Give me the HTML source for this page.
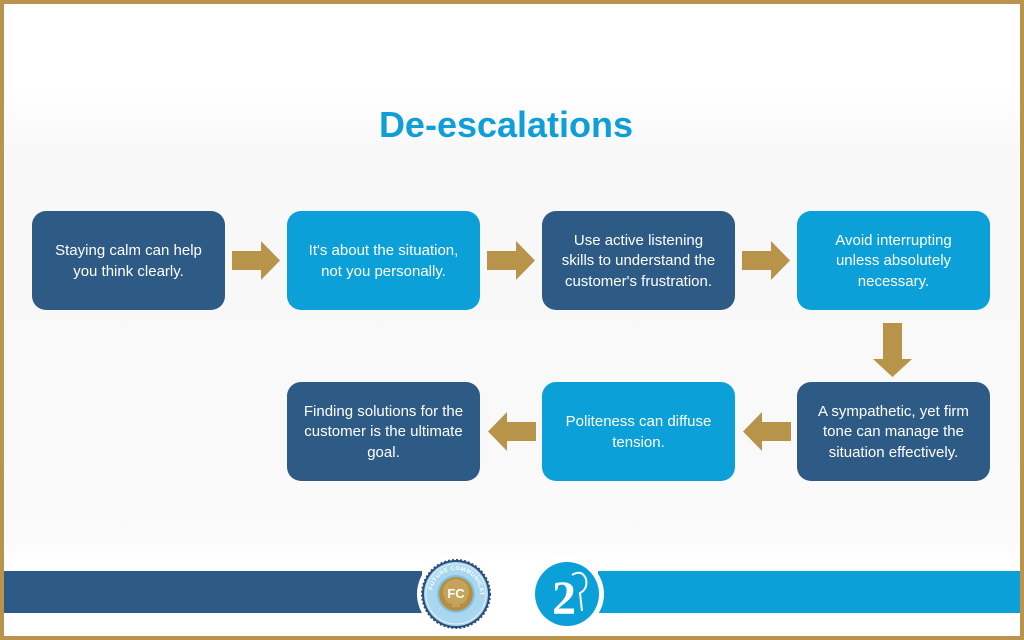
<!DOCTYPE html>
<html>
<head>
<meta charset="utf-8">
<style>
  html,body{margin:0;padding:0;}
  body{width:1024px;height:640px;position:relative;overflow:hidden;background:#ffffff;font-family:"Liberation Sans",Arial,sans-serif;}
  .frame{position:absolute;left:0;top:0;width:1016px;height:632px;border:4px solid #b8944c;}
  .bg{position:absolute;left:4px;top:4px;width:1016px;height:632px;
      background:linear-gradient(180deg,#ffffff 0px,#ffffff 80px,#f8f8f8 150px,#f9f9f9 450px,#fbfbfb 540px,#ffffff 560px);}
  .title{position:absolute;left:-6px;width:1024px;top:107px;text-align:center;font-weight:bold;font-size:36px;line-height:36px;color:#0e9fd8;}
  .box{position:absolute;width:193px;height:99px;border-radius:14px;display:flex;align-items:center;justify-content:center;text-align:center;color:#fff;font-size:15px;line-height:20.5px;padding-top:2px;box-sizing:border-box;}
  .dark{background:#2e5a86;}
  .light{background:#0ba0d8;}
</style>
</head>
<body>
<div class="bg"></div>
<div class="frame"></div>

<div class="title">De-escalations</div>

<div class="box dark" style="left:32px;top:211px;">Staying calm can help<br>you think clearly.</div>
<div class="box light" style="left:287px;top:211px;">It's about the situation,<br>not you personally.</div>
<div class="box dark" style="left:542px;top:211px;">Use active listening<br>skills to understand the<br>customer's frustration.</div>
<div class="box light" style="left:797px;top:211px;">Avoid interrupting<br>unless absolutely<br>necessary.</div>

<div class="box dark" style="left:797px;top:382px;">A sympathetic, yet firm<br>tone can manage the<br>situation effectively.</div>
<div class="box light" style="left:542px;top:382px;">Politeness can diffuse<br>tension.</div>
<div class="box dark" style="left:287px;top:382px;">Finding solutions for the<br>customer is the ultimate<br>goal.</div>

<svg style="position:absolute;left:0;top:0;" width="1024" height="640" viewBox="0 0 1024 640">
  <g fill="#b8944a">
    <polygon points="232,251 261,251 261,241 280,260.5 261,280 261,270 232,270"/>
    <polygon points="487,251 516,251 516,241 535,260.5 516,280 516,270 487,270"/>
    <polygon points="742,251 771,251 771,241 790,260.5 771,280 771,270 742,270"/>
    <polygon points="883,323 902,323 902,359 912,359 892.5,377 873,359 883,359"/>
    <polygon points="791,422 762,422 762,412 743,431.5 762,451 762,441 791,441"/>
    <polygon points="536,422 507,422 507,412 488,431.5 507,451 507,441 536,441"/>
  </g>

  <rect x="4" y="571" width="418" height="42" fill="#2e5a86"/>
  <rect x="598" y="571" width="422" height="42" fill="#0ba0d8"/>

  <circle cx="456" cy="594" r="39" fill="#ffffff"/>
  <g>
    <circle cx="456" cy="594" r="34" fill="#2b4d78" stroke="#2b4d78" stroke-width="2" stroke-dasharray="2 2"/>
    <circle cx="456" cy="594" r="32" fill="#a9d7f0"/>
    <circle cx="456" cy="594" r="30" fill="none" stroke="#e9f5fc" stroke-width="0.8"/>
    <circle cx="456" cy="594" r="19" fill="#7fc2e6"/>
    <circle cx="456" cy="594" r="17" fill="#b48f43"/>
    <circle cx="456" cy="592" r="13" fill="#c6a35a"/>
    <defs><path id="arcp" d="M 432 594 A 24 24 0 1 1 480 594"/></defs>
    <text font-family="Liberation Sans, sans-serif" font-size="6" font-weight="bold" fill="#ffffff" letter-spacing="0.3"><textPath href="#arcp" startOffset="4">FUTURE COMMUNICATIONS</textPath></text>
    <text x="456" y="598" text-anchor="middle" font-family="Liberation Sans, sans-serif" font-size="13" font-weight="bold" fill="#ffffff">FC</text>
    <text x="456" y="607" text-anchor="middle" font-family="Liberation Sans, sans-serif" font-size="4" fill="#ffffff">• • •</text>
  </g>

  <circle cx="567" cy="594" r="37" fill="#ffffff"/>
  <circle cx="567" cy="594" r="32" fill="#0ba0d8"/>
  <text x="564" y="614" text-anchor="middle" font-family="Liberation Serif, serif" font-size="48" font-weight="bold" fill="#ffffff">2</text>
  <path d="M572 575 q10 -6 14 4 q2 10 -6 14 l2 18" fill="none" stroke="#ffffff" stroke-width="2"/>
  <circle cx="575" cy="581" r="2" fill="#0ba0d8"/>
</svg>
</body>
</html>
